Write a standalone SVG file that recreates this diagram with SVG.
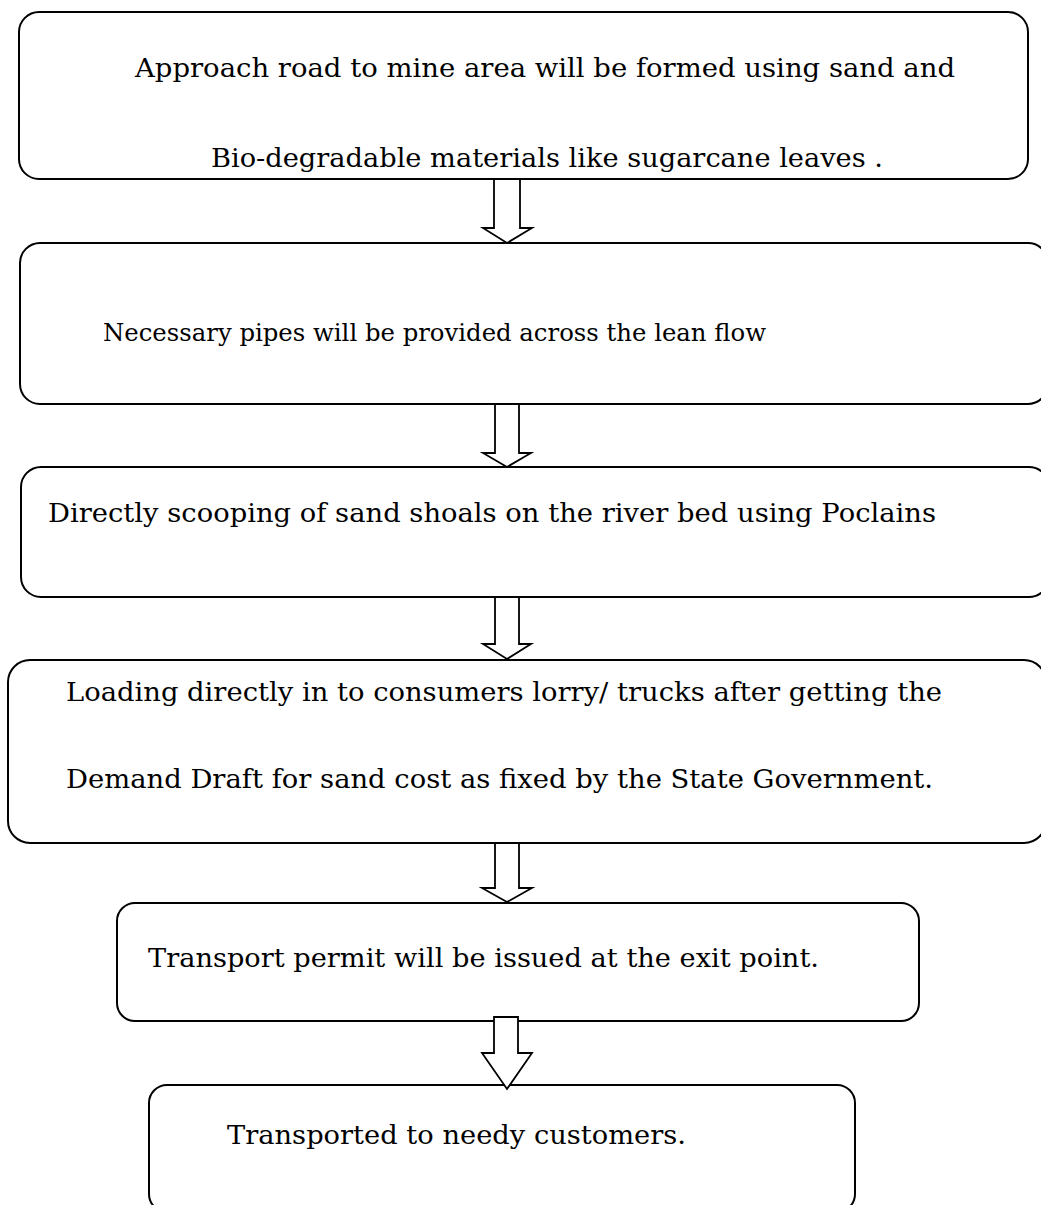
<svg xmlns="http://www.w3.org/2000/svg" width="1041" height="1205" viewBox="0 0 1041 1205">
<style>
.box{fill:#fff;stroke:#000;stroke-width:2}
.t{font-family:"DejaVu Serif","Liberation Serif",serif;font-size:26px;fill:#000}
.arr{fill:#fff;stroke:#000;stroke-width:1.8;stroke-linejoin:miter}
</style>
<rect width="1041" height="1205" fill="#fff"/>
<g id="node1"><rect class="box" x="19" y="12" width="1009" height="167" rx="20"/>
<text class="t" x="135" y="77" textLength="820" lengthAdjust="spacingAndGlyphs">Approach road to mine area will be formed using sand and</text>
<text class="t" x="211" y="167" textLength="672" lengthAdjust="spacingAndGlyphs">Bio-degradable materials like sugarcane leaves .</text></g>
<g id="node2"><rect class="box" x="20" y="243" width="1028" height="161" rx="20"/>
<text class="t" x="103" y="341" style="font-size:25px" textLength="663" lengthAdjust="spacingAndGlyphs">Necessary pipes will be provided across the lean flow</text></g>
<g id="node3"><rect class="box" x="21" y="467" width="1028" height="130" rx="20"/>
<text class="t" x="48" y="522" textLength="888" lengthAdjust="spacingAndGlyphs">Directly scooping of sand shoals on the river bed using Poclains</text></g>
<g id="node4"><rect class="box" x="8" y="660" width="1038" height="183" rx="22"/>
<text class="t" x="66" y="701" textLength="876" lengthAdjust="spacingAndGlyphs">Loading directly in to consumers lorry/ trucks after getting the</text>
<text class="t" x="66" y="788" textLength="867" lengthAdjust="spacingAndGlyphs">Demand Draft for sand cost as fixed by the State Government.</text></g>
<g id="node5"><rect class="box" x="117" y="903" width="802" height="118" rx="18"/>
<text class="t" x="148" y="967" textLength="671" lengthAdjust="spacingAndGlyphs">Transport permit will be issued at the exit point.</text></g>
<g id="node6"><rect class="box" x="149" y="1085" width="706" height="127" rx="18"/>
<text class="t" x="227" y="1144" textLength="459" lengthAdjust="spacingAndGlyphs">Transported to needy customers.</text></g>
<g id="connectors">
<path class="arr" d="M494,179 H520 V228 H532 L507,243 L483,228 H494 Z"/>
<path class="arr" d="M495,404 H519 V453 H531 L507,467 L483,453 H495 Z"/>
<path class="arr" d="M495,597 H519 V644 H531 L507,659 L483,644 H495 Z"/>
<path class="arr" d="M495,843 H519 V888 H532 L507,902 L482,888 H495 Z"/>
<path class="arr" d="M494,1017 H518 V1053 H532 L507,1089 L482,1053 H494 Z"/>
</g>
</svg>
